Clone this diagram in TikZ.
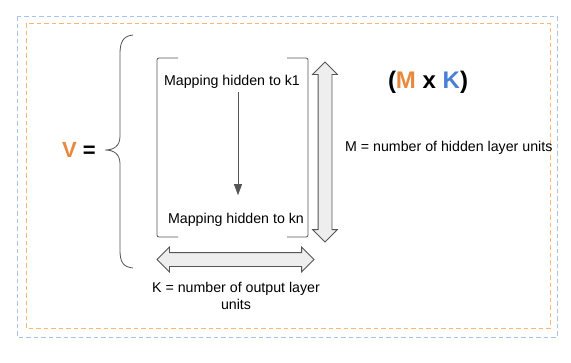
\documentclass[tikz,border=0pt]{standalone}
\usepackage{fontspec}
\setmainfont{Liberation Sans}
\usetikzlibrary{positioning, arrows.meta, shapes.arrows}
\definecolor{vorange}{HTML}{E8893D}
\definecolor{kblue}{HTML}{4A7FD6}
\definecolor{frameblue}{HTML}{A9C4EB}
\definecolor{frameorange}{HTML}{FFB570}
\definecolor{arrowfill}{HTML}{EEEEEE}
\definecolor{edge}{HTML}{555555}

\begin{document}
\begin{tikzpicture}[x=1pt, y=-1pt,
  txt/.style={font=\fontsize{14.2}{16.5}\selectfont, inner sep=1pt},
  big/.style={font=\fontsize{22}{26}\selectfont\bfseries, inner sep=0pt},
  frame/.style={dashed, dash pattern=on 4.5pt off 3pt, line width=0.8pt},
  bracket/.style={draw=edge, line width=0.8pt, rounded corners=2pt},
  fat/.style={double arrow, draw=edge, fill=arrowfill, line width=0.8pt,
              double arrow head extend=5.5pt, inner sep=0pt, inner ysep=6.5pt},
]
  \useasboundingbox (0,0) rectangle (571,362);

  % Outer dashed frames
  \draw[frame, frameblue] (17,16) rectangle (557,337);
  \draw[frame, frameorange] (26,23) rectangle (550,328);

  % Left hand side
  \node[big] (lhs) at (79,150) {\textcolor{vorange}{V} =};

  % Curly brace
  \draw[bracket, rounded corners=0pt] (133,35) .. controls (123,36) and (120,42) .. (120,54)
    -- (120,136) .. controls (120,146) and (114,150) .. (105,150)
    .. controls (114,150) and (120,154) .. (120,164)
    -- (120,250) .. controls (120,262) and (123,267) .. (133,268);

  % Matrix brackets
  \draw[bracket] (178,58) -- (157,58) -- (157,237) -- (178,237);
  \draw[bracket] (287,58) -- (308,58) -- (308,237) -- (287,237);

  % Rows
  \node[txt] (k1) at (232,82) {Mapping hidden to k1};
  \node[txt] (kn) at (236,220) {Mapping hidden to kn};
  \draw[edge, line width=0.8pt, -{Triangle[length=11pt, width=8pt]}]
    ([xshift=6pt, yshift=-2pt]k1.south) -- ([xshift=2pt, yshift=17pt]kn.north);

  % Dimension arrows
  \node[fat, minimum height=180pt, rotate=90] (rows) at (325,152) {};
  \node[fat, minimum height=157pt] (cols) at (235.5,259.5) {};

  % Labels
  \node[big, font=\fontsize{24}{28}\selectfont\bfseries] (dims) at (428,82)
    {(\textcolor{vorange}{M} x \textcolor{kblue}{K})};
  \node[txt, anchor=west] (mlabel) at (344,148) {M = number of hidden layer units};
  \node[txt, align=center] (klabel) at (236,296) {K = number of output layer\\units};
\end{tikzpicture}
\end{document}
